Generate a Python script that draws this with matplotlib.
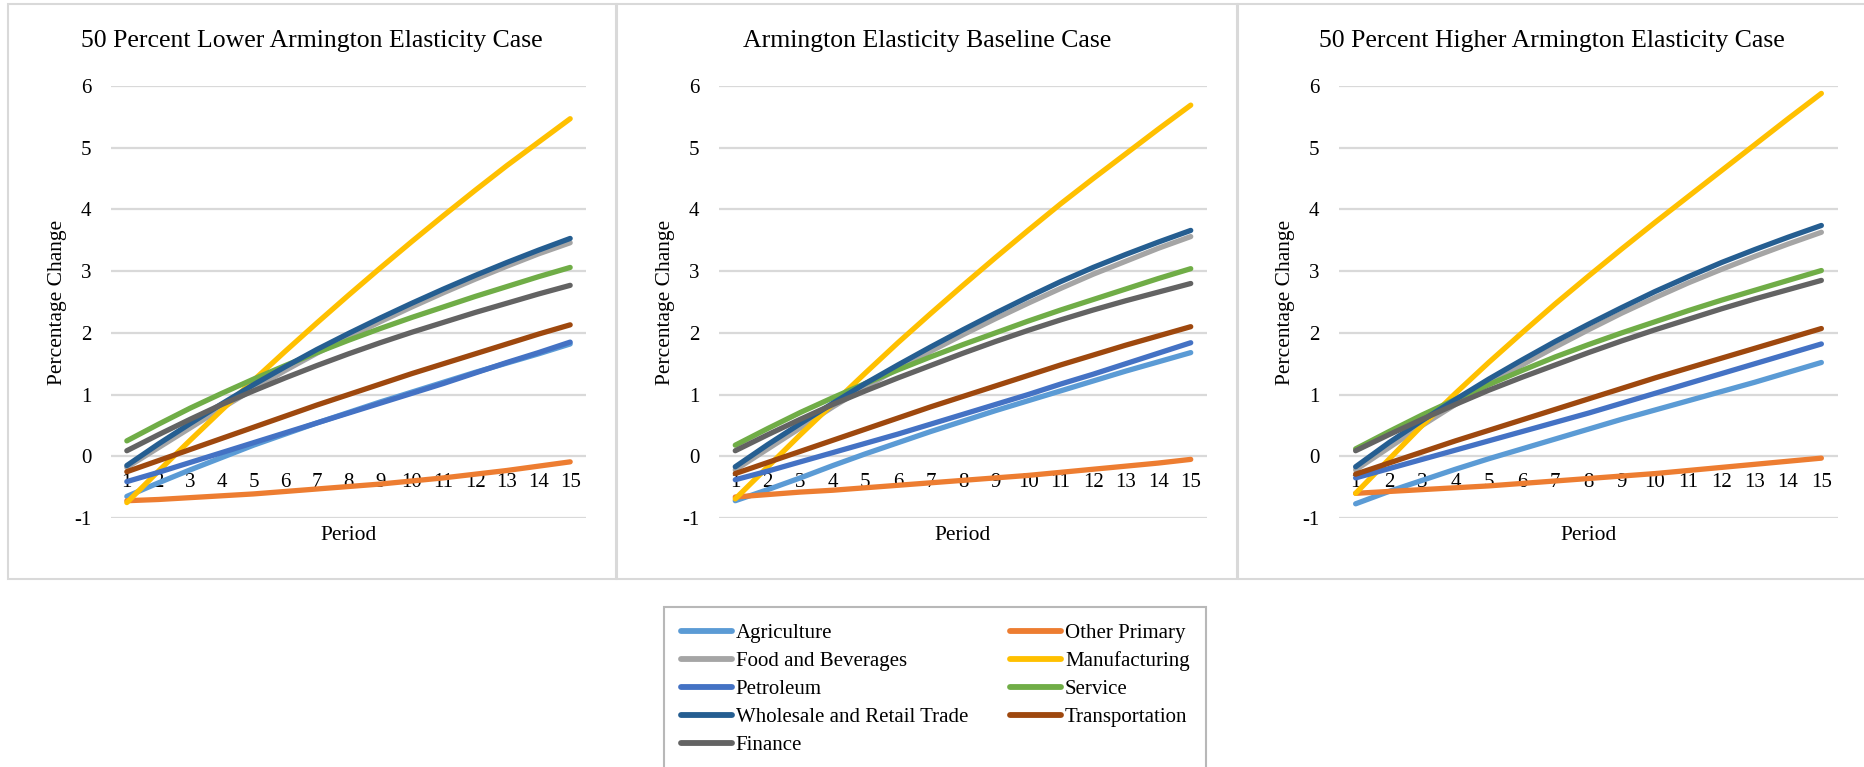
import matplotlib
matplotlib.use("Agg")
import matplotlib.pyplot as plt
from matplotlib.patches import Rectangle
from matplotlib.lines import Line2D

plt.rcParams['font.family'] = ['Liberation Serif', 'DejaVu Serif']

periods = list(range(1, 16))
sectors = ["Agriculture", "Other Primary", "Food and Beverages", "Manufacturing",
           "Petroleum", "Service", "Wholesale and Retail Trade", "Transportation", "Finance"]
colors = ["#5B9BD5", "#ED7D31", "#A5A5A5", "#FFC000", "#4472C4", "#70AD47",
          "#255E91", "#9E480E", "#636363"]
titles = ["50 Percent Lower Armington Elasticity Case",
          "Armington Elasticity Baseline Case",
          "50 Percent Higher Armington Elasticity Case"]
y_ticks = [-1, 0, 1, 2, 3, 4, 5, 6]

# ---- 50 percent lower case ----
low_agriculture = [-0.65, -0.43, -0.22, -0.02, 0.18, 0.36, 0.54, 0.71, 0.88, 1.04, 1.20, 1.36, 1.51, 1.66, 1.82]
low_other_primary = [-0.72, -0.70, -0.67, -0.64, -0.61, -0.57, -0.53, -0.49, -0.45, -0.40, -0.35, -0.29, -0.23, -0.16, -0.09]
low_food = [-0.18, 0.14, 0.46, 0.78, 1.09, 1.39, 1.67, 1.93, 2.18, 2.42, 2.65, 2.87, 3.08, 3.28, 3.46]
low_manufacturing = [-0.75, -0.24, 0.26, 0.75, 1.23, 1.70, 2.16, 2.61, 3.05, 3.48, 3.90, 4.31, 4.71, 5.09, 5.47]
low_petroleum = [-0.41, -0.26, -0.10, 0.06, 0.22, 0.38, 0.54, 0.70, 0.86, 1.02, 1.18, 1.35, 1.52, 1.68, 1.85]
low_service = [0.25, 0.52, 0.78, 1.02, 1.25, 1.47, 1.68, 1.88, 2.07, 2.25, 2.42, 2.59, 2.75, 2.91, 3.06]
low_wholesale = [-0.15, 0.20, 0.53, 0.85, 1.16, 1.45, 1.73, 1.99, 2.24, 2.48, 2.71, 2.93, 3.14, 3.34, 3.53]
low_transportation = [-0.25, -0.07, 0.11, 0.29, 0.47, 0.65, 0.83, 1.00, 1.17, 1.34, 1.50, 1.66, 1.82, 1.98, 2.13]
low_finance = [0.09, 0.35, 0.60, 0.84, 1.06, 1.27, 1.47, 1.66, 1.84, 2.01, 2.17, 2.33, 2.48, 2.63, 2.77]

# ---- baseline case ----
base_agriculture = [-0.72, -0.54, -0.35, -0.15, 0.04, 0.22, 0.40, 0.57, 0.74, 0.90, 1.06, 1.22, 1.38, 1.53, 1.68]
base_other_primary = [-0.66, -0.62, -0.58, -0.55, -0.51, -0.47, -0.43, -0.39, -0.35, -0.31, -0.26, -0.21, -0.16, -0.11, -0.05]
base_food = [-0.22, 0.12, 0.46, 0.80, 1.12, 1.42, 1.70, 1.97, 2.23, 2.48, 2.72, 2.95, 3.16, 3.37, 3.56]
base_manufacturing = [-0.69, -0.17, 0.35, 0.85, 1.35, 1.84, 2.31, 2.77, 3.22, 3.66, 4.09, 4.50, 4.90, 5.30, 5.69]
base_petroleum = [-0.38, -0.24, -0.09, 0.06, 0.21, 0.36, 0.52, 0.68, 0.84, 1.00, 1.17, 1.33, 1.50, 1.67, 1.84]
base_service = [0.18, 0.45, 0.71, 0.95, 1.18, 1.40, 1.61, 1.81, 2.00, 2.19, 2.37, 2.54, 2.71, 2.88, 3.04]
base_wholesale = [-0.17, 0.19, 0.53, 0.86, 1.18, 1.48, 1.77, 2.05, 2.32, 2.58, 2.83, 3.06, 3.27, 3.47, 3.66]
base_transportation = [-0.28, -0.10, 0.08, 0.26, 0.44, 0.62, 0.80, 0.97, 1.14, 1.31, 1.48, 1.64, 1.80, 1.95, 2.10]
base_finance = [0.09, 0.35, 0.60, 0.84, 1.06, 1.27, 1.47, 1.67, 1.86, 2.04, 2.21, 2.37, 2.52, 2.66, 2.80]

# ---- 50 percent higher case ----
high_agriculture = [-0.77, -0.57, -0.39, -0.21, -0.04, 0.12, 0.28, 0.44, 0.60, 0.75, 0.90, 1.05, 1.20, 1.36, 1.52]
high_other_primary = [-0.60, -0.57, -0.54, -0.51, -0.48, -0.44, -0.40, -0.36, -0.32, -0.28, -0.23, -0.18, -0.13, -0.08, -0.03]
high_food = [-0.22, 0.14, 0.50, 0.84, 1.17, 1.48, 1.77, 2.05, 2.32, 2.57, 2.81, 3.03, 3.24, 3.44, 3.63]
high_manufacturing = [-0.60, -0.05, 0.50, 1.02, 1.52, 2.00, 2.47, 2.92, 3.36, 3.79, 4.21, 4.63, 5.05, 5.47, 5.88]
high_petroleum = [-0.35, -0.20, -0.05, 0.10, 0.25, 0.40, 0.55, 0.70, 0.86, 1.02, 1.18, 1.34, 1.50, 1.66, 1.82]
high_service = [0.12, 0.40, 0.67, 0.92, 1.16, 1.39, 1.61, 1.81, 2.00, 2.18, 2.36, 2.53, 2.69, 2.85, 3.01]
high_wholesale = [-0.17, 0.22, 0.58, 0.92, 1.25, 1.56, 1.86, 2.14, 2.41, 2.67, 2.91, 3.14, 3.35, 3.55, 3.74]
high_transportation = [-0.29, -0.11, 0.07, 0.25, 0.42, 0.59, 0.76, 0.93, 1.10, 1.27, 1.43, 1.59, 1.75, 1.91, 2.07]
high_finance = [0.09, 0.35, 0.60, 0.84, 1.07, 1.28, 1.48, 1.68, 1.87, 2.05, 2.22, 2.39, 2.55, 2.70, 2.85]

panels = [
    [low_agriculture, low_other_primary, low_food, low_manufacturing, low_petroleum,
     low_service, low_wholesale, low_transportation, low_finance],
    [base_agriculture, base_other_primary, base_food, base_manufacturing, base_petroleum,
     base_service, base_wholesale, base_transportation, base_finance],
    [high_agriculture, high_other_primary, high_food, high_manufacturing, high_petroleum,
     high_service, high_wholesale, high_transportation, high_finance],
]

W, H = 1865, 767
fig = plt.figure(figsize=(W / 100, H / 100), dpi=100)

# pixel layout: (panel left, panel right, axes left, axes right)
layout = [(8, 616, 111, 586), (617, 1237, 719, 1207), (1238, 1866, 1339, 1838)]
ax_top, ax_bottom = 86, 518
panel_top, panel_bottom = 4, 579

for (pl, pr, al, ar), title, series in zip(layout, titles, panels):
    fig.patches.append(Rectangle((pl / W, 1 - panel_bottom / H), (pr - pl) / W,
                                 (panel_bottom - panel_top) / H, transform=fig.transFigure,
                                 fill=False, edgecolor="#d9d9d9", linewidth=1.5, zorder=0))
    ax = fig.add_axes([al / W, 1 - ax_bottom / H, (ar - al) / W, (ax_bottom - ax_top) / H])
    ax.set_xlim(0.5, 15.5)
    ax.set_ylim(-1, 6)
    ax.set_yticks(y_ticks)
    ax.set_yticklabels([str(v) for v in y_ticks])
    ax.set_xticks(periods)
    ax.set_xticklabels([str(p) for p in periods])
    ax.grid(axis='y', color="#d9d9d9", linewidth=1.6)
    ax.set_axisbelow(True)
    for s in ["left", "right", "top"]:
        ax.spines[s].set_visible(False)
    ax.spines["bottom"].set_position(("data", 0))
    ax.spines["bottom"].set_visible(False)
    ax.tick_params(axis='y', length=0, pad=14, labelsize=15, labelcolor="#000000")
    ax.tick_params(axis='x', length=0, pad=12, labelsize=15, labelcolor="#000000")
    for vals, col in zip(series, colors):
        ax.plot(periods, vals, color=col, linewidth=3.8, solid_capstyle='round',
                solid_joinstyle='round', zorder=3)
    fig.text(((pl + pr) / 2) / W, 1 - 47 / H, title, ha='center', va='baseline', fontsize=18.5)
    ax.set_ylabel("Percentage Change", fontsize=15.5)
    ax.yaxis.label.set_va('center')
    ax.yaxis.set_label_coords((al - 53) / W, 1 - 302 / H, transform=fig.transFigure)
    ax.set_xlabel("Period", fontsize=15.5)
    ax.xaxis.label.set_va('center')
    ax.xaxis.set_label_coords(((al + ar) / 2) / W, 1 - 535 / H, transform=fig.transFigure)

handles = [Line2D([], [], color=c, linewidth=4.2, solid_capstyle='round') for c in colors]
order = [0, 2, 4, 6, 8, 1, 3, 5, 7]
leg = fig.legend([handles[i] for i in order], [sectors[i] for i in order],
                 loc='upper left', bbox_to_anchor=(664 / W, 1 - 607 / H), ncol=2,
                 fontsize=15, frameon=True, fancybox=False, handlelength=2.45,
                 handletextpad=0.2, columnspacing=2.0, labelspacing=0.4,
                 borderpad=0.8, borderaxespad=0)
leg.get_frame().set_edgecolor("#a6a6a6")
leg.get_frame().set_linewidth(1.5)

fig.savefig("out.png", dpi=100)
